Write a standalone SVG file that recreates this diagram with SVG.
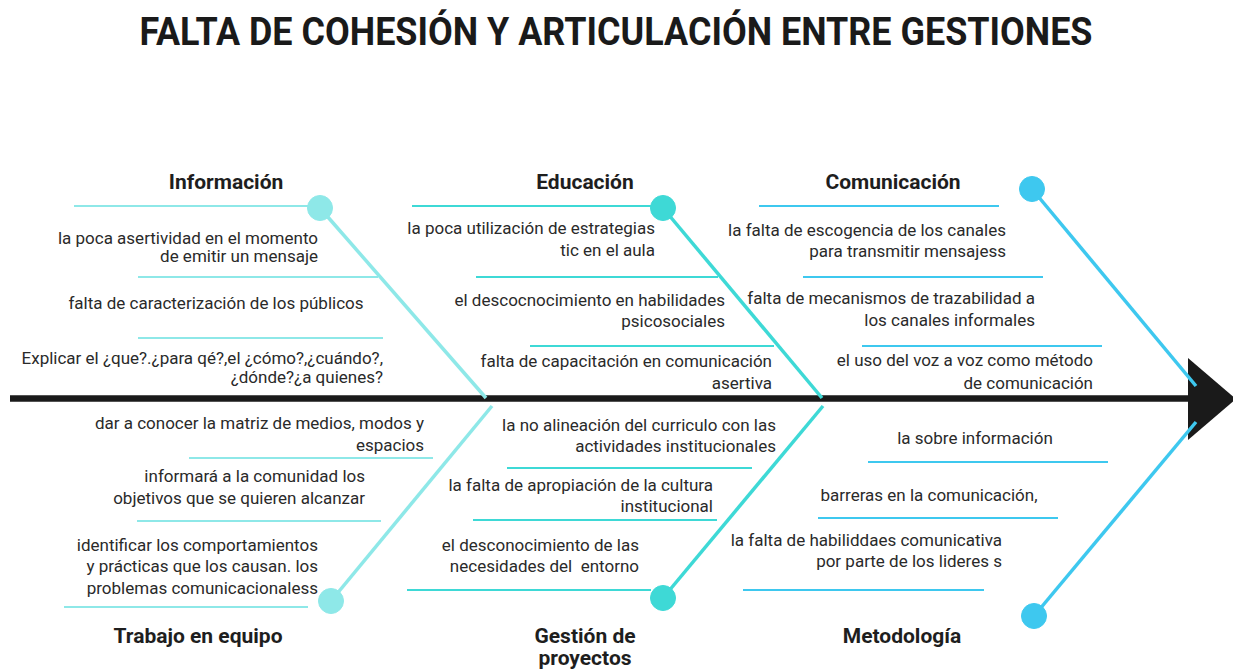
<svg xmlns="http://www.w3.org/2000/svg" width="1233" height="669" viewBox="0 0 1233 669">
<style>
.t{font-family:Roboto,"Liberation Sans",sans-serif;font-size:17px;fill:#2a2a2a}
.e{text-anchor:end}
.m{text-anchor:middle}
.h{font-family:Roboto,"Liberation Sans",sans-serif;font-size:21px;font-weight:bold;fill:#1e1e1e;text-anchor:middle}
.c1{stroke:#8ee8e8;fill:#8ee8e8}
.c2{stroke:#3ed9d6;fill:#3ed9d6}
.c3{stroke:#3ec8ef;fill:#3ec8ef}
.sub{stroke-width:2;fill:none}
.br{stroke-width:3.5;fill:none}
</style>
<rect width="1233" height="669" fill="#ffffff"/>
<text x="616" y="45" font-family="Roboto,'Liberation Sans',sans-serif" font-size="38" font-weight="bold" fill="#1a1a1a" text-anchor="middle" textLength="953" lengthAdjust="spacingAndGlyphs">FALTA DE COHESIÓN Y ARTICULACIÓN ENTRE GESTIONES</text>
<g id="connectors">
<line x1="10" y1="398.5" x2="1200" y2="398.5" stroke="#1a1a1a" stroke-width="6.5"/>
<polygon points="1188,358 1236,399 1188,440" fill="#1a1a1a"/>
<line class="c1 br" x1="320" y1="208" x2="486" y2="398"/>
<line class="c2 br" x1="663" y1="208" x2="822" y2="398"/>
<line class="c3 br" x1="1032" y1="189" x2="1196" y2="386"/>
<line class="c1 br" x1="331" y1="601" x2="492" y2="406"/>
<line class="c2 br" x1="663" y1="598" x2="823" y2="406"/>
<line class="c3 br" x1="1034" y1="616" x2="1196" y2="422"/>
</g>
<g id="informacion">
<circle class="c1" cx="320" cy="208" r="12.5"/>
<text class="h" x="226" y="189">Información</text>
<line class="c1 sub" x1="74" y1="206" x2="310" y2="206"/>
<text class="t e" x="318" y="244">la poca asertividad en el momento</text>
<text class="t e" x="318" y="262">de emitir un mensaje</text>
<line class="c1 sub" x1="138" y1="277" x2="378" y2="277"/>
<text class="t m" x="216" y="309">falta de caracterización de los públicos</text>
<line class="c1 sub" x1="138" y1="338" x2="383" y2="338"/>
<text class="t e" x="383" y="364">Explicar el ¿que?.¿para qé?,el ¿cómo?,¿cuándo?,</text>
<text class="t e" x="383" y="383">¿dónde?¿a quienes?</text>
</g>
<g id="educacion">
<circle class="c2" cx="663" cy="208" r="12.5"/>
<text class="h" x="585" y="189">Educación</text>
<line class="c2 sub" x1="412" y1="206" x2="653" y2="206"/>
<text class="t e" x="655" y="234">la poca utilización de estrategias</text>
<text class="t e" x="655" y="256">tic en el aula</text>
<line class="c2 sub" x1="476" y1="277" x2="718" y2="277"/>
<text class="t e" x="725" y="306">el descocnocimiento en habilidades</text>
<text class="t e" x="725" y="327">psicosociales</text>
<line class="c2 sub" x1="530" y1="346" x2="774" y2="346"/>
<text class="t e" x="772" y="367">falta de capacitación en comunicación</text>
<text class="t e" x="772" y="389">asertiva</text>
</g>
<g id="comunicacion">
<circle class="c3" cx="1032" cy="189" r="12.5"/>
<text class="h" x="893" y="189">Comunicación</text>
<line class="c3 sub" x1="759" y1="206" x2="999" y2="206"/>
<text class="t e" x="1006" y="236">la falta de escogencia de los canales</text>
<text class="t e" x="1006" y="257">para transmitir mensajess</text>
<line class="c3 sub" x1="803" y1="277" x2="1043" y2="277"/>
<text class="t e" x="1035" y="304">falta de mecanismos de trazabilidad a</text>
<text class="t e" x="1035" y="326">los canales informales</text>
<line class="c3 sub" x1="862" y1="346" x2="1102" y2="346"/>
<text class="t e" x="1093" y="366">el uso del voz a voz como método</text>
<text class="t e" x="1093" y="389">de comunicación</text>
</g>
<g id="trabajo">
<circle class="c1" cx="331" cy="601" r="12.5"/>
<text class="h" x="198" y="643">Trabajo en equipo</text>
<text class="t e" x="424" y="429">dar a conocer la matriz de medios, modos y</text>
<text class="t e" x="424" y="451">espacios</text>
<line class="c1 sub" x1="189" y1="458" x2="433" y2="458"/>
<text class="t e" x="365" y="482">informará a la comunidad los</text>
<text class="t e" x="365" y="504">objetivos que se quieren alcanzar</text>
<line class="c1 sub" x1="137" y1="521" x2="381" y2="521"/>
<text class="t e" x="318" y="551">identificar los comportamientos</text>
<text class="t e" x="318" y="572">y prácticas que los causan. los</text>
<text class="t e" x="318" y="594">problemas comunicacionaless</text>
<line class="c1 sub" x1="64" y1="607" x2="308" y2="607"/>
</g>
<g id="gestion">
<circle class="c2" cx="663" cy="598" r="12.5"/>
<text class="h" x="585" y="643">Gestión de</text>
<text class="h" x="585" y="665">proyectos</text>
<text class="t e" x="776" y="431">la no alineación del curriculo con las</text>
<text class="t e" x="776" y="452">actividades institucionales</text>
<line class="c2 sub" x1="507" y1="468" x2="752" y2="468"/>
<text class="t e" x="713" y="491">la falta de apropiación de la cultura</text>
<text class="t e" x="713" y="512">institucional</text>
<line class="c2 sub" x1="473" y1="520" x2="717" y2="520"/>
<text class="t e" x="639" y="551">el desconocimiento de las</text>
<text class="t e" x="639" y="572" xml:space="preserve">necesidades del  entorno</text>
<line class="c2 sub" x1="407" y1="590" x2="651" y2="590"/>
</g>
<g id="metodologia">
<circle class="c3" cx="1034" cy="616" r="12.5"/>
<text class="h" x="902" y="643">Metodología</text>
<text class="t m" x="975" y="444">la sobre información</text>
<line class="c3 sub" x1="868" y1="462" x2="1108" y2="462"/>
<text class="t m" x="929" y="501">barreras en la comunicación,</text>
<line class="c3 sub" x1="818" y1="518" x2="1058" y2="518"/>
<text class="t e" x="1002" y="546">la falta de habiliddaes comunicativa</text>
<text class="t e" x="1002" y="567">por parte de los lideres s</text>
<line class="c3 sub" x1="743" y1="590" x2="984" y2="590"/>
</g>
</svg>
